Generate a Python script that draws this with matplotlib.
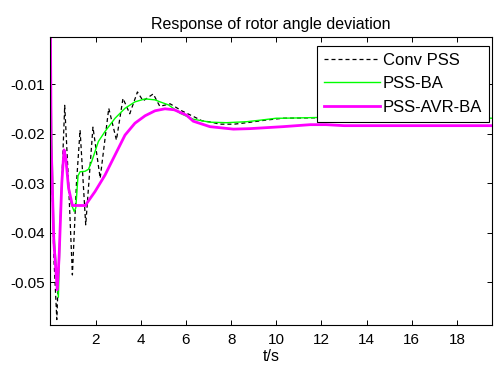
import matplotlib
matplotlib.use("Agg")
import matplotlib.pyplot as plt

plt.rcParams['font.family'] = ['Liberation Sans', 'DejaVu Sans']

# Conv PSS (black dashed)
t_conv = [0.0, 0.03, 0.15, 0.28, 0.45, 0.63, 0.80, 0.97, 1.15, 1.31, 1.56, 1.88, 2.20,
          2.58, 2.92, 3.21, 3.51, 3.85, 4.10, 4.55, 4.84, 5.30, 5.81, 6.44, 6.70, 7.14,
          7.48, 8.13, 8.70, 9.50, 10.3, 12.0, 14.0, 16.0, 19.6]
v_conv = [-0.0005, -0.022, -0.045, -0.0575, -0.036, -0.0143, -0.030, -0.0485, -0.030,
          -0.0193, -0.0384, -0.0187, -0.0290, -0.0149, -0.0213, -0.0129, -0.0160, -0.0116,
          -0.0134, -0.0120, -0.0145, -0.0140, -0.0154, -0.0168, -0.0174, -0.0177,
          -0.0181, -0.0181, -0.0178, -0.0173, -0.0169, -0.0168, -0.0168, -0.0169, -0.0169]

# PSS-BA (green)
t_ba = [0.0, 0.05, 0.15, 0.35, 0.45, 0.55, 0.62, 0.75, 0.90, 1.05, 1.12, 1.22, 1.31, 1.53,
        1.68, 1.82, 2.12, 2.41, 2.86, 3.30, 3.74, 4.19, 4.63, 4.85, 5.22, 5.74, 6.32, 7.06,
        7.80, 8.69, 9.28, 10.0, 10.3, 12.4, 14.0, 16.0, 19.6]
v_ba = [-0.0005, -0.020, -0.040, -0.0530, -0.035, -0.025, -0.0235, -0.028, -0.034, -0.0357,
        -0.0350, -0.0285, -0.0277, -0.0276, -0.0272, -0.0257, -0.0216, -0.0196, -0.0169,
        -0.0149, -0.0136, -0.0130, -0.0132, -0.0136, -0.0142, -0.0159, -0.0171, -0.0177,
        -0.0178, -0.0176, -0.0173, -0.0169, -0.0169, -0.0167, -0.0168, -0.0168, -0.0169]

# PSS-AVR-BA (magenta)
t_avr = [0.0, 0.03, 0.15, 0.30, 0.38, 0.50, 0.60, 0.68, 0.80, 0.97, 1.56, 1.60, 1.97,
         2.41, 2.86, 3.30, 3.74, 4.19, 4.63, 5.07, 5.48, 6.03, 6.32, 7.06,
         8.10, 8.83, 9.57, 10.3, 11.5, 12.2, 13.0, 14.0, 16.0, 19.6]
v_avr = [-0.0005, -0.022, -0.042, -0.0515, -0.045, -0.030, -0.0233, -0.025, -0.031, -0.0345,
         -0.0345, -0.0341, -0.0317, -0.0284, -0.0243, -0.0203, -0.0179, -0.0164, -0.0154,
         -0.0150, -0.0152, -0.0163, -0.0175, -0.0186, -0.0191, -0.0190,
         -0.0188, -0.0186, -0.0182, -0.0182, -0.0184, -0.0184, -0.0184, -0.0184]

labels = ['Conv PSS', 'PSS-BA', 'PSS-AVR-BA']
x_ticks = [2, 4, 6, 8, 10, 12, 14, 16, 18]
y_ticks = [-0.05, -0.04, -0.03, -0.02, -0.01]
y_ticklabels = ['-0.05', '-0.04', '-0.03', '-0.02', '-0.01']

fig = plt.figure(figsize=(4.95, 3.67), dpi=100)
ax = fig.add_axes([0.1020, 0.1144, 0.8919, 0.7848])

ax.plot(t_conv, v_conv, color='black', lw=0.9, linestyle=(0, (3.2, 2.4)), label=labels[0])
ax.plot(t_ba, v_ba, color='#00ff00', lw=1.0, label=labels[1])
ax.plot(t_avr, v_avr, color='#ff00ff', lw=2.0, label=labels[2])

ax.set_xlim(0, 19.55)
ax.set_ylim(-0.0586, -0.00052)
ax.set_xticks(x_ticks)
ax.set_yticks(y_ticks)
ax.set_yticklabels(y_ticklabels)
ax.tick_params(direction='in', length=3.5, width=0.7, top=True, right=True,
               labelsize=11, colors='black')
ax.tick_params(axis='x', pad=6)
ax.tick_params(axis='y', pad=4)
for s in ax.spines.values():
    s.set_linewidth(0.8)
    s.set_color('black')

ax.set_title('Response of rotor angle deviation', fontsize=11.5, pad=6)
ax.set_xlabel('t/s', fontsize=11.5, labelpad=1.5)

leg = ax.legend(loc='upper right', bbox_to_anchor=(0.994, 0.969), fontsize=12,
                fancybox=False, framealpha=1, edgecolor='black', borderaxespad=0,
                handlelength=3.35, handletextpad=0.2, labelspacing=0.5, borderpad=0.42)
leg.get_frame().set_linewidth(0.8)

fig.savefig('out.png', dpi=100)
